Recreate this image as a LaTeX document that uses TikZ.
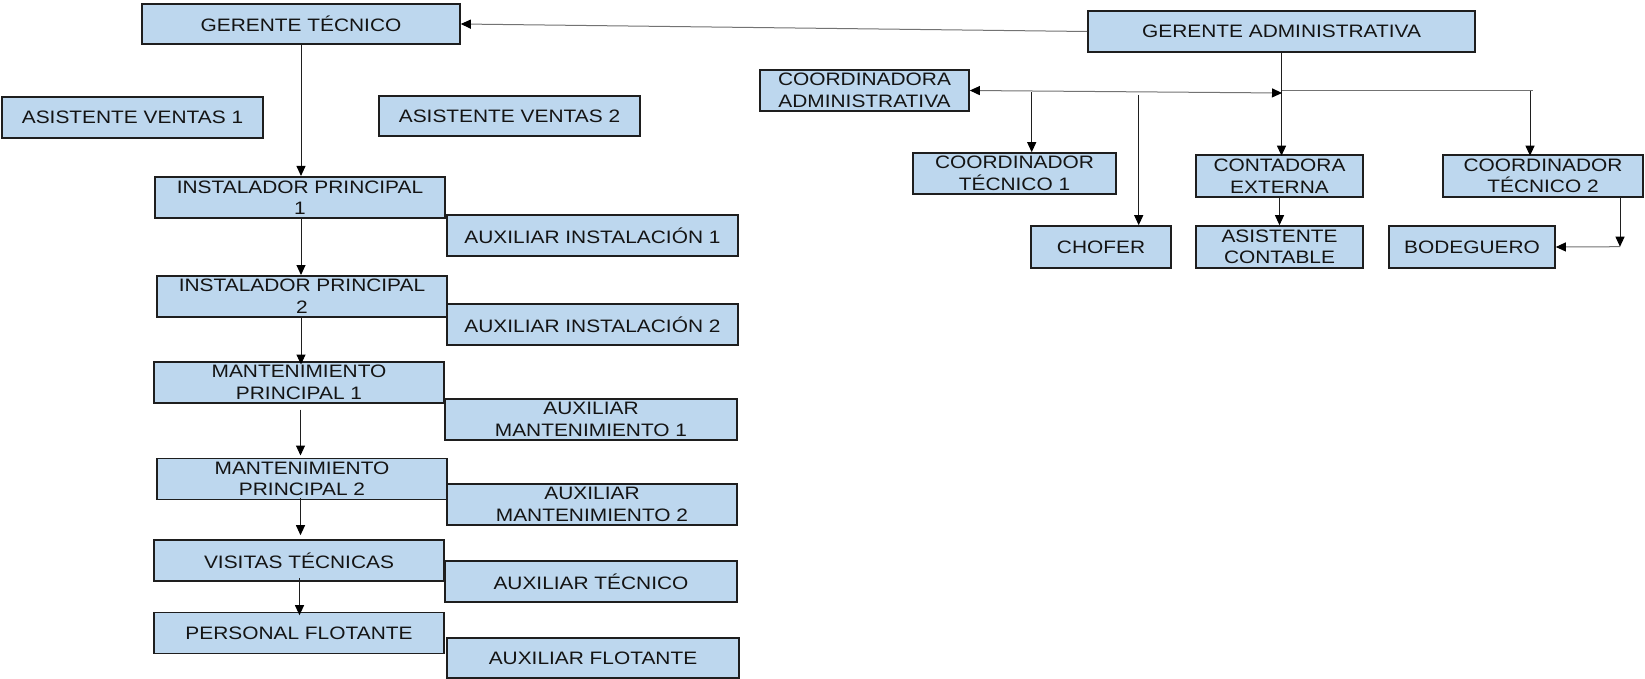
\documentclass[tikz,border=0pt]{standalone}
\usepackage{fontspec}
\setmainfont[FakeStretch=1.16]{Liberation Sans}
\usetikzlibrary{arrows.meta}
\definecolor{boxfill}{HTML}{BDD7EE}
\definecolor{boxline}{HTML}{1E1E1E}
\definecolor{txt}{HTML}{141414}
\tikzset{
  orgbox/.style={draw=boxline, fill=boxfill, line width=1.6pt, inner sep=0pt,
    align=center, text=txt, font=\fontsize{18}{21.5}\selectfont},
  conn/.style={draw=black!88, line width=1pt},
  faint/.style={draw=black!55},
  arr/.style={conn, -{Triangle[length=10pt,width=9pt,color=black]}},
  darr/.style={conn, {Triangle[length=10pt,width=9pt,color=black]}-{Triangle[length=10pt,width=9pt,color=black]}}
}
\begin{document}
\begin{tikzpicture}[x=1pt,y=-1pt]
\useasboundingbox[fill=white] (0,0) rectangle (1645,679);

% left column
\node[orgbox, minimum width=318pt, minimum height=40pt] (GT) at (301,24) {GERENTE TÉCNICO};
\node[orgbox, minimum width=261pt, minimum height=41pt] (AVa) at (132.5,117.5) {ASISTENTE VENTAS 1};
\node[orgbox, minimum width=261pt, minimum height=40pt] (AVb) at (509.5,116) {ASISTENTE VENTAS 2};
\node[orgbox, minimum width=290pt, minimum height=41.5pt] (IPa) at (300,197.5) {INSTALADOR PRINCIPAL\\1};
\node[orgbox, minimum width=291pt, minimum height=41pt] (AIa) at (592.5,235.3) {AUXILIAR INSTALACIÓN 1};
\node[orgbox, minimum width=290pt, minimum height=41pt] (IPb) at (302,296.3) {INSTALADOR PRINCIPAL\\2};
\node[orgbox, minimum width=291pt, minimum height=41pt] (AIb) at (592.5,324.7) {AUXILIAR INSTALACIÓN 2};
\node[orgbox, minimum width=290pt, minimum height=41pt] (MPa) at (299,382.3) {MANTENIMIENTO\\PRINCIPAL 1};
\node[orgbox, minimum width=292pt, minimum height=41pt] (AMa) at (591,419.5) {AUXILIAR\\MANTENIMIENTO 1};
\node[orgbox, minimum width=290pt, minimum height=41pt] (MPb) at (302,478.8) {MANTENIMIENTO\\PRINCIPAL 2};
\node[orgbox, minimum width=290pt, minimum height=41pt] (AMb) at (592,504.3) {AUXILIAR\\MANTENIMIENTO 2};
\node[orgbox, minimum width=290pt, minimum height=41pt] (VT) at (299,560.5) {VISITAS TÉCNICAS};
\node[orgbox, minimum width=292pt, minimum height=41pt] (AT) at (591,581.3) {AUXILIAR TÉCNICO};
\node[orgbox, minimum width=290pt, minimum height=41pt] (PF) at (299,633) {PERSONAL FLOTANTE};
\node[orgbox, minimum width=292pt, minimum height=40pt] (AF) at (593,658) {AUXILIAR FLOTANTE};

% right part
\node[orgbox, minimum width=387pt, minimum height=41pt] (GA) at (1281.5,31.5) {GERENTE ADMINISTRATIVA};
\node[orgbox, minimum width=209pt, minimum height=41pt] (CA) at (864.5,90.5) {COORDINADORA\\ADMINISTRATIVA};
\node[orgbox, minimum width=203pt, minimum height=41pt] (CTa) at (1014.5,173.5) {COORDINADOR\\TÉCNICO 1};
\node[orgbox, minimum width=167pt, minimum height=42pt] (CE) at (1279.5,176) {CONTADORA\\EXTERNA};
\node[orgbox, minimum width=200pt, minimum height=42pt] (CTb) at (1543,176) {COORDINADOR\\TÉCNICO 2};
\node[orgbox, minimum width=140pt, minimum height=42pt] (CH) at (1101,247) {CHOFER};
\node[orgbox, minimum width=167pt, minimum height=42pt] (AC) at (1279.5,247) {ASISTENTE\\CONTABLE};
\node[orgbox, minimum width=166pt, minimum height=42pt] (BO) at (1472,247) {BODEGUERO};

% junction coordinates
\coordinate (J1) at (1282,93);
\coordinate (J2) at (1282,90.7);
\coordinate (J3) at (1533,90.7);
\coordinate (J4) at (1530,90.7);
\coordinate (J5) at (1031.7,92);
\coordinate (J6) at (1138.7,95);
\coordinate (K) at (1620,246.7);

% left connectors
\draw[arr, faint] (GA.west) -- (GT.east);
\draw[arr] (GT.south) -- (GT.south |- IPa.north);
\draw[arr] ([xshift=1pt]IPa.south) -- ([xshift=1pt]IPa.south |- IPb.north);
\draw[arr] ([xshift=-1pt]IPb.south) -- ([xshift=-1pt,yshift=-3.5pt]IPb.south |- MPa.north);
\draw[arr] ([xshift=1.5pt,yshift=-6pt]MPa.south) -- ([xshift=1.5pt,yshift=2pt]MPa.south |- MPb.north);
\draw[arr] ([xshift=1.5pt,yshift=2.5pt]VT.north |- MPb.south) -- ([xshift=1.5pt,yshift=4pt]VT.north);
\draw[arr] ([xshift=0.5pt,yshift=4pt]VT.south) -- ([xshift=0.5pt,yshift=-3.5pt]PF.north);

% right connectors
\draw[arr] (GA.south) -- ([yshift=-1.5pt]GA.south |- CE.north);
\draw[darr, faint] (CA.east) -- (J1);
\draw[conn, faint] (J2) -- (J3);
\draw[arr] (J4) -- ([yshift=-1.5pt]J4 |- CTb.north);
\draw[arr] (J5) -- (J5 |- CTa.north);
\draw[arr] (J6) -- (J6 |- CH.north);
\draw[arr] (CE.south) -- (AC.north);
\draw[arr] (K |- CTb.south) -- (K);
\draw[arr, faint] (K) -- (BO.east);
\end{tikzpicture}
\end{document}
